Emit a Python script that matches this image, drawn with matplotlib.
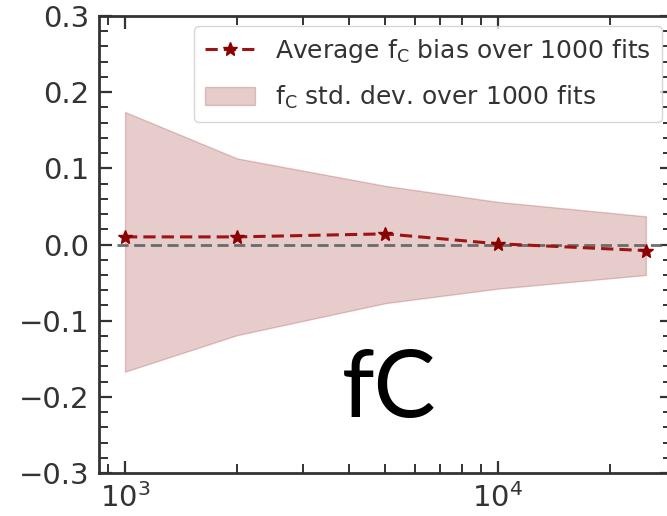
import matplotlib
matplotlib.use("Agg")
import matplotlib.pyplot as plt
from matplotlib.ticker import MultipleLocator, LogLocator, NullFormatter

# Number of simulated samples per fit and resulting f_C statistics
n_samples = [1000, 2000, 5000, 10000, 25000]
bias_mean = [0.010, 0.010, 0.014, 0.001, -0.008]
band_upper = [0.174, 0.113, 0.077, 0.056, 0.037]
band_lower = [-0.167, -0.119, -0.077, -0.058, -0.040]

red = "#8b0000"
line_red = "#9c1414"
ink = "#333333"

fig = plt.figure(figsize=(6.67, 5.16), dpi=100)
ax = fig.add_axes([0.1484, 0.0833, 0.859, 0.8857])

ax.fill_between(n_samples, band_lower, band_upper, color=red, alpha=0.2,
                linewidth=1.0, label=r"f$_{\rm C}$ std. dev. over 1000 fits")
ax.plot(n_samples, bias_mean, color=line_red, linestyle=(0, (4.0, 2.0)),
        linewidth=2.2, marker="*", markersize=10, zorder=3,
        markerfacecolor=red, markeredgecolor=red,
        label=r"Average f$_{\rm C}$ bias over 1000 fits")

ax.set_xscale("log")
ax.set_ylim(-0.3, 0.3)
ax.autoscale_view()
ax.set_autoscale_on(False)

# zero reference line, kept out of the autoscaling
ax.hlines(0, 950, 3e4, colors="#606060", linestyles=(0, (4.0, 2.0)),
          linewidth=2.0, alpha=0.9, zorder=2)

ax.yaxis.set_major_locator(MultipleLocator(0.1))
ax.yaxis.set_minor_locator(MultipleLocator(0.02))
ax.xaxis.set_minor_locator(LogLocator(base=10, subs=range(2, 10)))
ax.xaxis.set_minor_formatter(NullFormatter())

for s in ax.spines.values():
    s.set_linewidth(2.0)
    s.set_color(ink)

ax.tick_params(which="both", direction="in", top=True, right=True,
               colors=ink, labelsize=21)
ax.tick_params(which="major", length=9, width=1.6, pad=7)
ax.tick_params(which="minor", length=6.5, width=1.4)

handles, labels = ax.get_legend_handles_labels()
leg = ax.legend(handles[::-1], labels[::-1], loc="upper right", fontsize=18,
                frameon=True, borderaxespad=0.4, labelspacing=0.75,
                borderpad=0.45)
for t in leg.get_texts():
    t.set_color(ink)

ax.text(0.424, 0.1225, "fC", transform=ax.transAxes, fontsize=67,
        family="Lato", color="black", ha="left", va="baseline")

fig.savefig("out.png", dpi=100)
